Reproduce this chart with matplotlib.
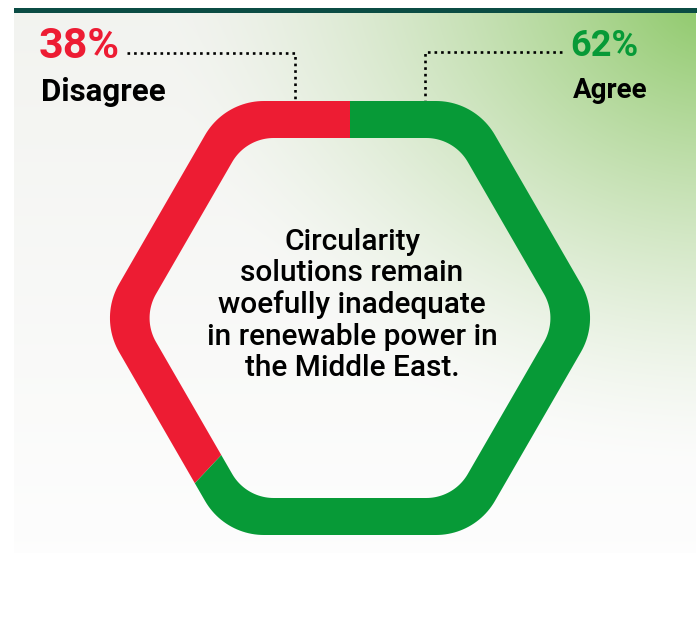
import numpy as np
import matplotlib
matplotlib.use("Agg")
import matplotlib.pyplot as plt
from matplotlib.path import Path
from matplotlib.patches import PathPatch, Rectangle

# ── Data ──────────────────────────────────────────────────────────────────────
LABELS = ["Disagree", "Agree"]
VALUES = [38, 62]
COLORS = ["#ED1C33", "#079A37"]
STATEMENT = ("Circularity\nsolutions remain\nwoefully inadequate\n"
             "in renewable power in\nthe Middle East.")

W, H = 697, 623
FONT = "Roboto"


def py(y):
    # pixel row (from top) -> data y
    return H - y


def rounded_hex(cx, cy, apothem, rc, n_arc=24):
    R = apothem / np.cos(np.radians(30))
    d = R - rc / np.sin(np.radians(60))
    pts = []
    for k in range(6):
        ang = np.radians(60 * k)
        acx, acy = cx + d * np.cos(ang), cy + d * np.sin(ang)
        for t in np.linspace(ang - np.radians(30), ang + np.radians(30), n_arc):
            pts.append((acx + rc * np.cos(t), acy + rc * np.sin(t)))
    return np.array(pts)


fig = plt.figure(figsize=(W / 100, H / 100), dpi=100)
ax = fig.add_axes([0, 0, 1, 1])

# ── Background panel with green glow at top-right ─────────────────────────────
px0, px1, py0, py1 = 14, 696, 13, 553
xs = np.linspace(px0, px1, 400)
ys = np.linspace(py0, py1, 320)
XX, YY = np.meshgrid(xs, ys)
dist = np.hypot((XX - 720) / 1.0, (YY + 10) / 0.85)
g = np.clip(1 - dist / 560, 0, 1) ** 1.5
vert = np.clip((YY - py0) / (py1 - py0), 0, 1)
base = np.array([0.950, 0.954, 0.940])[None, None, :] * (1 - vert[..., None]) \
    + np.array([0.993, 0.993, 0.993])[None, None, :] * vert[..., None]
green = np.array([0.54, 0.78, 0.39])
img = base * (1 - g[..., None]) + green[None, None, :] * g[..., None]
ax.imshow(img, extent=(px0, px1, py(py1), py(py0)), origin="upper",
          aspect="auto", zorder=0, interpolation="bilinear")

# dark top rule
ax.add_patch(Rectangle((px0, py(13)), W - px0, 5, color="#0B4C44",
                       lw=0, zorder=2))

# ── Hexagonal donut ──────────────────────────────────────────────────────────
CX, CY = 350, py(318)
outer = rounded_hex(CX, CY, 217, 68)
inner = rounded_hex(CX, CY, 180, 48)[::-1]
verts = np.concatenate([outer, outer[:1], inner, inner[:1]])
codes = ([Path.MOVETO] + [Path.LINETO] * (len(outer) - 1) + [Path.CLOSEPOLY]
         + [Path.MOVETO] + [Path.LINETO] * (len(inner) - 1) + [Path.CLOSEPOLY])
ring = PathPatch(Path(verts, codes), facecolor="none", edgecolor="none")
ax.add_patch(ring)

wedges, _ = ax.pie(VALUES, colors=COLORS, startangle=90, counterclock=True,
                   radius=330, center=(CX, CY),
                   wedgeprops=dict(linewidth=0))
for w in wedges:
    w.set_clip_on(True)
    w.set_clip_path(ring)
    w.set_zorder(3)

# ── Labels and dotted leaders ────────────────────────────────────────────────
ax.text(39, py(46), f"{VALUES[0]}%", color=COLORS[0], fontsize=31,
        fontweight="bold", family=FONT, ha="left", va="center")
ax.text(41, py(92), LABELS[0], color="black", fontsize=22.5,
        fontweight="bold", family=FONT, ha="left", va="center")
ax.text(638, py(46), f"{VALUES[1]}%", color=COLORS[1], fontsize=26,
        fontweight="bold", family=FONT, ha="right", va="center")
ax.text(648, py(91), LABELS[1], color="black", fontsize=20,
        fontweight="bold", family=FONT, ha="right", va="center")

dot = dict(color="black", lw=1.9, linestyle=(0, (1, 1.5)), zorder=4)
ax.plot([127, 295, 295], [py(53), py(53), py(100)], **dot)
ax.plot([562, 425, 425], [py(52), py(52), py(100)], **dot)

ax.text(352, py(305), STATEMENT, color="black", fontsize=21.5,
        fontweight="medium", family=FONT, ha="center", va="center",
        multialignment="center", linespacing=1.15, zorder=5)

ax.set_xlim(0, W)
ax.set_ylim(0, H)
ax.set_aspect("auto")
ax.axis("off")

fig.savefig("out.png", dpi=100, facecolor="white")
